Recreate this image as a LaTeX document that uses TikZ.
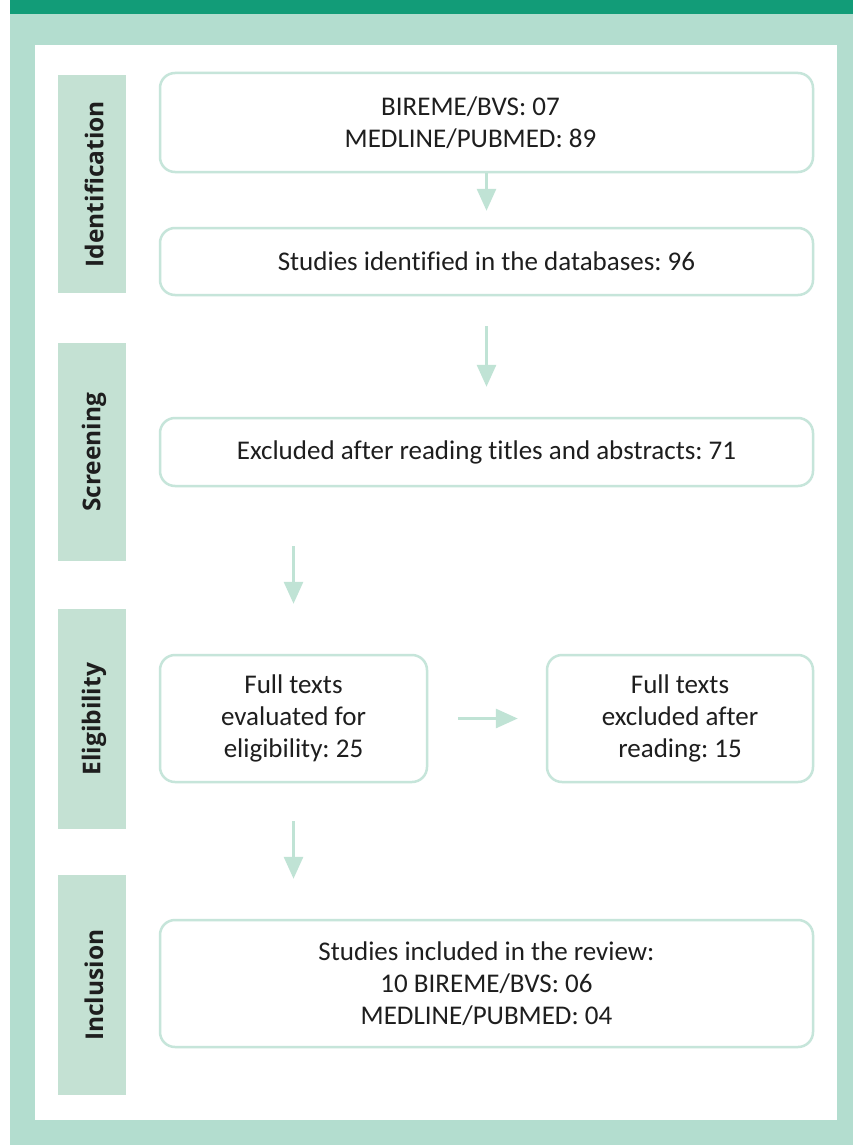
\documentclass[tikz,border=0pt]{standalone}
\usepackage{fontspec}
\setmainfont{Carlito}[Ligatures=NoCommon]
\newfontfamily\labelfont{Open Sans}
\usetikzlibrary{arrows.meta}
\definecolor{darkbar}{HTML}{129C78}
\definecolor{lightbg}{HTML}{B3DDCF}
\definecolor{stagefill}{HTML}{C4E1D3}
\definecolor{boxline}{HTML}{C6E5DA}
\definecolor{arrowcol}{HTML}{C0E3D5}
\definecolor{txt}{HTML}{1E1E1E}
\tikzset{
  stagebox/.style={fill=stagefill, draw=none, minimum width=68pt, inner sep=0pt, anchor=north},
  stagetext/.style={rotate=90, font=\labelfont\bfseries\fontsize{24.5}{28}\selectfont, text=txt},
  flowbox/.style={draw=boxline, line width=2.5pt, rounded corners=15pt, fill=white,
     align=center, text=txt, font=\frenchspacing\fontsize{27}{32}\selectfont, inner sep=0pt},
  flowarrow/.style={draw=arrowcol, line width=3pt, -{Triangle[width=19pt,length=22pt]}},
}
\begin{document}
\begin{tikzpicture}[x=1pt,y=-1pt]
\useasboundingbox (0,0) rectangle (853,1145);
% backgrounds
\fill[white] (0,0) rectangle (853,1145);
\fill[lightbg] (10,14) rectangle (853,1145);
\fill[darkbar] (10,0) rectangle (853,14);
\fill[white] (35,45) rectangle (837,1120);
% stage labels
\node[stagebox, minimum height=218pt] (sid) at (92,75) {};
\node[stagetext] (tid) at ([xshift=2pt]sid.center) {Identification};
\node[stagebox, minimum height=218pt] (ssc) at (92,343) {};
\node[stagetext] (tsc) at ([xshift=2pt]ssc.center) {Screening};
\node[stagebox, minimum height=220pt] (sel) at (92,609) {};
\node[stagetext] (tel) at ([xshift=2pt]sel.center) {Eligibility};
\node[stagebox, minimum height=220pt] (sin) at (92,875) {};
\node[stagetext] (tin) at ([xshift=2pt]sin.center) {Inclusion};
% flow boxes
\node[flowbox, minimum width=653pt, minimum height=99pt] (n1) at (486.5,122.5)
  {BIREME/BVS: 07\hspace*{32pt}\\MEDLINE/PUBMED: 89\hspace*{32pt}};
\node[flowbox, minimum width=653pt, minimum height=67pt] (n2) at (486.5,261.5)
  {Studies identified in the databases: 96};
\node[flowbox, minimum width=653pt, minimum height=68pt] (n3) at (486.5,452)
  {Excluded after reading titles and abstracts: 71};
\node[flowbox, minimum width=267pt, minimum height=127pt] (n4) at (293.5,718.5)
  {Full texts\\evaluated for\\eligibility: 25};
\node[flowbox, minimum width=266pt, minimum height=127pt] (n5) at (680,718.5)
  {Full texts\\excluded after\\reading: 15};
\node[flowbox, minimum width=653pt, minimum height=127pt] (n6) at (486.5,983.5)
  {Studies included in the review:\\10 BIREME/BVS: 06\\MEDLINE/PUBMED: 04};
% arrows
\draw[flowarrow, shorten >=16pt] (n1) -- (n2);
\draw[flowarrow, shorten <=30pt, shorten >=30pt] (n2) -- (n3);
\draw[flowarrow, shorten <=59pt, shorten >=50pt] (n3.south -| n4.north) -- (n4.north);
\draw[flowarrow, shorten <=30pt, shorten >=28pt] (n4) -- (n5);
\draw[flowarrow, shorten <=38pt, shorten >=40pt] (n4.south) -- (n4.south |- n6.north);
\end{tikzpicture}
\end{document}
